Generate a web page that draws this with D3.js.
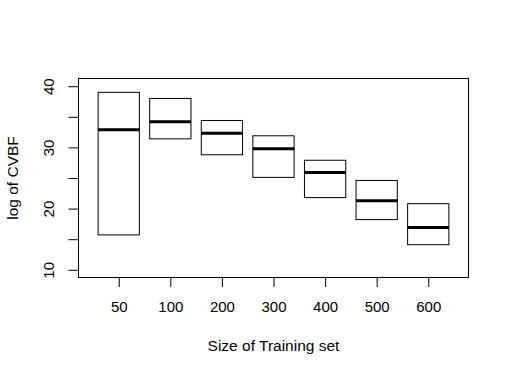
<!DOCTYPE html>
<html>
<head>
	<meta charset="utf-8">
	<script src="https://d3js.org/d3.v7.min.js"></script>
	<style>
	body {margin: 0; background-color: #ffffff;}
	svg {font-family: "Liberation Sans", Arial, sans-serif;}
	</style>
</head>
<body>
	<script>
	// training set sizes and the box stats
	var sizes = ["50", "100", "200", "300", "400", "500", "600"];
	var lower = [15.7, 31.4, 28.8, 25.1, 21.8, 18.2, 14.1];
	var median = [32.9, 34.2, 32.3, 29.8, 25.9, 21.3, 16.9];
	var upper = [39.0, 38.0, 34.4, 31.9, 27.9, 24.6, 20.8];
	var yTicks = [10, 15, 20, 25, 30, 35, 40];
	var yLabels = ["10", "", "20", "", "30", "", "40"];

	var width = 509, height = 375;

	var svg = d3.select("body").append("svg")
		.attr("width", width)
		.attr("height", height);

	// R-style padded domains
	var x = d3.scaleLinear().domain([0.22, 7.78]).range([78.5, 468.5]);
	var y = d3.scaleLinear().domain([8.74, 41.26]).range([277.5, 78.5]);

	var boxes = sizes.map(function(s, i) {
		return {i: i + 1, lo: lower[i], med: median[i], hi: upper[i]};
	});

	var g = svg.append("g");

	g.selectAll("rect.box")
		.data(boxes)
		.enter()
		.append("rect")
		.attr("class", "box")
		.attr("x", function(d) { return x(d.i - 0.4); })
		.attr("width", function(d) { return x(d.i + 0.4) - x(d.i - 0.4); })
		.attr("y", function(d) { return y(d.hi); })
		.attr("height", function(d) { return y(d.lo) - y(d.hi); })
		.attr("fill", "none")
		.attr("stroke", "#000")
		.attr("stroke-width", 1);

	g.selectAll("line.med")
		.data(boxes)
		.enter()
		.append("line")
		.attr("class", "med")
		.attr("x1", function(d) { return x(d.i - 0.4); })
		.attr("x2", function(d) { return x(d.i + 0.4); })
		.attr("y1", function(d) { return y(d.med); })
		.attr("y2", function(d) { return y(d.med); })
		.attr("stroke", "#000")
		.attr("stroke-width", 3);

	// frame
	svg.append("rect")
		.attr("x", 78.5).attr("y", 78.5)
		.attr("width", 390).attr("height", 199)
		.attr("fill", "none")
		.attr("stroke", "#000");

	var xAxis = d3.axisBottom(x)
		.tickValues(d3.range(1, sizes.length + 1))
		.tickFormat(function(d) { return sizes[d - 1]; })
		.tickSizeInner(9.5)
		.tickSizeOuter(0);

	var gx = svg.append("g")
		.attr("transform", "translate(0,277.5)")
		.call(xAxis);
	gx.select(".domain").remove();
	gx.selectAll("line").attr("stroke", "#000");
	gx.selectAll("text")
		.attr("y", 34.5)
		.attr("dy", null)
		.attr("fill", "#000")
		.style("font-size", "15px");

	var yAxis = d3.axisLeft(y)
		.tickValues(yTicks)
		.tickFormat(function(d, i) { return yLabels[i]; })
		.tickSizeInner(10)
		.tickSizeOuter(0);

	var gy = svg.append("g")
		.attr("transform", "translate(78.5,0)")
		.call(yAxis);
	gy.select(".domain").remove();
	gy.selectAll("line").attr("stroke", "#000");
	gy.selectAll("text")
		.attr("transform", "rotate(-90)")
		.attr("x", 0)
		.attr("y", -25)
		.attr("dy", null)
		.attr("text-anchor", "middle")
		.attr("fill", "#000")
		.style("font-size", "15px");

	svg.append("text")
		.attr("x", 273.5)
		.attr("y", 351)
		.attr("text-anchor", "middle")
		.style("font-size", "15.5px")
		.text("Size of Training set");

	svg.append("text")
		.attr("transform", "translate(18,178) rotate(-90)")
		.attr("text-anchor", "middle")
		.style("font-size", "15.5px")
		.text("log of CVBF");
	</script>
</body>
</html>
